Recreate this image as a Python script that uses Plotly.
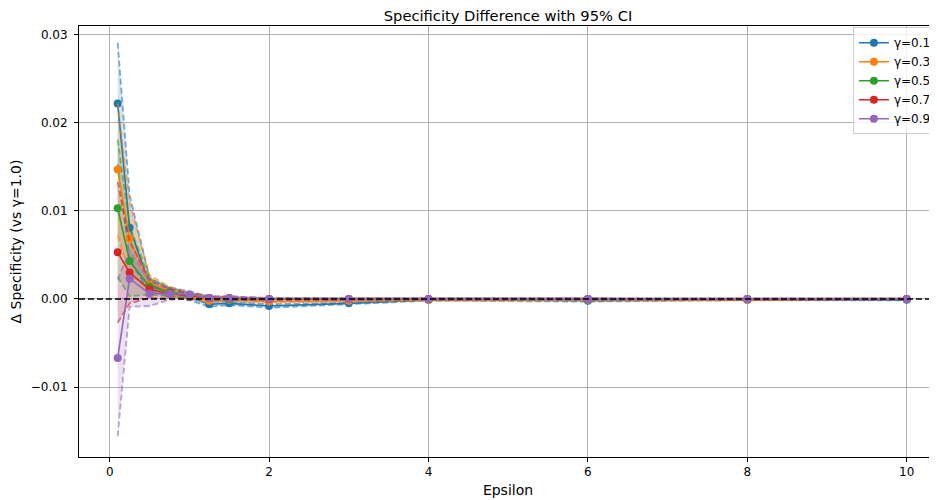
import plotly.graph_objects as go

epsilon = [0.1, 0.25, 0.5, 0.75, 1.0, 1.25, 1.5, 2, 3, 4, 6, 8, 10]
gammas = ["γ=0.1", "γ=0.3", "γ=0.5", "γ=0.7", "γ=0.9"]

mean_g01 = [0.0222, 0.0081, 0.0016, 0.0008, 0.0002, -0.0006, -0.0005, -0.0008, -0.0005, -0.0001, -0.0002, -0.0001, -0.0001]
mean_g03 = [0.0147, 0.0069, 0.0018, 0.0009, 0.0003, -0.0002, -0.0001, -0.0003, -0.0002, -0.0001, -0.0001, -0.0001, 0.0000]
mean_g05 = [0.0103, 0.0043, 0.0014, 0.0008, 0.0004, 0.0001, 0.0000, 0.0000, 0.0000, 0.0000, 0.0000, 0.0000, 0.0000]
mean_g07 = [0.0053, 0.0030, 0.0011, 0.0006, 0.0004, 0.0001, 0.0001, 0.0000, 0.0000, 0.0000, 0.0000, 0.0000, 0.0000]
mean_g09 = [-0.0067, 0.0023, 0.0006, 0.0006, 0.0005, 0.0001, 0.0001, 0.0000, 0.0000, 0.0000, 0.0000, 0.0000, 0.0000]

ci_g01 = [0.0069, 0.0037, 0.0008, 0.0004, 0.0003, 0.0003, 0.0002, 0.0002, 0.0001, 0.0001, 0.0001, 0.00005, 0.00005]
ci_g03 = [0.0075, 0.0040, 0.0009, 0.0005, 0.0003, 0.0002, 0.0002, 0.0001, 0.0001, 0.0001, 0.00005, 0.00005, 0.00005]
ci_g05 = [0.0078, 0.0040, 0.0009, 0.0005, 0.0003, 0.0002, 0.0002, 0.0001, 0.0001, 0.0001, 0.00005, 0.00005, 0.00005]
ci_g07 = [0.0080, 0.0035, 0.0010, 0.0005, 0.0003, 0.0002, 0.0002, 0.0001, 0.0001, 0.0001, 0.00005, 0.00005, 0.00005]
ci_g09 = [0.0089, 0.0032, 0.0014, 0.0007, 0.0004, 0.0002, 0.0002, 0.0001, 0.0001, 0.0001, 0.00005, 0.00005, 0.00005]

means = [mean_g01, mean_g03, mean_g05, mean_g07, mean_g09]
cis = [ci_g01, ci_g03, ci_g05, ci_g07, ci_g09]
colors_rgb = [(31, 119, 180), (255, 127, 14), (44, 160, 44), (214, 39, 40), (148, 103, 189)]

y_tickvals = [-0.01, 0.0, 0.01, 0.02, 0.03]
y_ticktext = ["−0.01", "0.00", "0.01", "0.02", "0.03"]
x_tickvals = [0, 2, 4, 6, 8, 10]

FONT = "DejaVu Sans, Liberation Sans, sans-serif"

fig = go.Figure()

# fills first (below lines)
for m, c, rgb in zip(means, cis, colors_rgb):
    lo = [a - b for a, b in zip(m, c)]
    hi = [a + b for a, b in zip(m, c)]
    fig.add_trace(go.Scatter(
        x=epsilon + epsilon[::-1], y=hi + lo[::-1], fill="toself",
        fillcolor="rgba(%d,%d,%d,0.2)" % rgb, line=dict(width=0),
        mode="lines", showlegend=False, hoverinfo="skip"))

for name, m, c, rgb in zip(gammas, means, cis, colors_rgb):
    col = "rgb(%d,%d,%d)" % rgb
    lo = [a - b for a, b in zip(m, c)]
    hi = [a + b for a, b in zip(m, c)]
    fig.add_trace(go.Scatter(
        x=epsilon, y=m, mode="lines+markers", name=name,
        line=dict(color=col, width=1.6), marker=dict(color=col, size=8)))
    for b in (lo, hi):
        fig.add_trace(go.Scatter(
            x=epsilon, y=b, mode="lines", showlegend=False,
            line=dict(color="rgba(%d,%d,%d,0.6)" % rgb, width=1.8, dash="6px,3px"),
            hoverinfo="skip"))

fig.add_shape(type="line", xref="paper", x0=0, x1=1, yref="y", y0=0, y1=0,
              line=dict(color="black", width=1.6, dash="6px,3px"), layer="above")

fig.update_layout(
    width=929, height=492,
    margin=dict(l=71, r=0, t=18, b=43),
    paper_bgcolor="white", plot_bgcolor="white",
    font=dict(family=FONT, size=12, color="black"),
    title=dict(text="Specificity Difference with 95% CI", x=0.5, xref="paper",
               y=0.9848, yanchor="middle", font=dict(size=14.7)),
    legend=dict(x=0.902, y=0.997, xanchor="left", yanchor="top",
                bgcolor="rgba(255,255,255,0.8)", bordercolor="#cccccc", borderwidth=1,
                font=dict(size=12), itemwidth=30, tracegroupgap=0),
    showlegend=True,
)
fig.update_xaxes(range=[-0.385, 10.38], tickvals=x_tickvals, showgrid=True,
                 gridcolor="#b0b0b0", gridwidth=0.8, zeroline=False, automargin=False,
                 showline=True, linecolor="black", linewidth=1, mirror=True,
                 ticks="outside", ticklen=4, tickcolor="black",
                 title=dict(text="Epsilon", standoff=6))
fig.update_yaxes(range=[-0.01795, 0.0310], tickvals=y_tickvals, ticktext=y_ticktext,
                 showgrid=True, gridcolor="#b0b0b0", gridwidth=0.8, zeroline=False, automargin=False,
                 showline=True, linecolor="black", linewidth=1, mirror=True,
                 ticks="outside", ticklen=4, tickcolor="black", ticklabelstandoff=4,
                 title=dict(text="Δ Specificity (vs γ=1.0)", standoff=6))

fig.write_html("out.html")
